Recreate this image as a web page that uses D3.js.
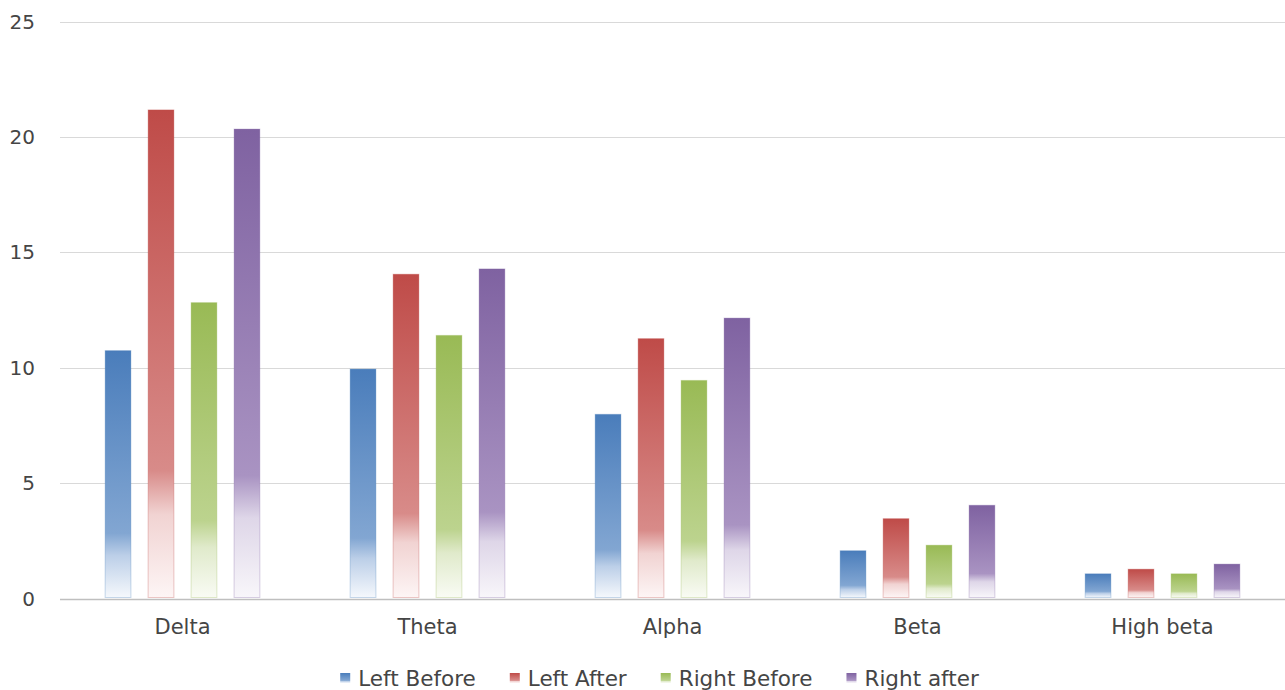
<!DOCTYPE html>
<html>
<head>
<meta charset="utf-8">
<script src="https://cdn.jsdelivr.net/npm/d3@7"></script>
<style>
  body { margin: 0; background: #fff; }
  svg { display: block; }
  text { font-family: "DejaVu Sans", sans-serif; fill: #454545; }
</style>
</head>
<body>
<div class="canva"></div>
<script>
// data
const categories = ["Delta", "Theta", "Alpha", "Beta", "High beta"];
const series = ["Left Before", "Left After", "Right Before", "Right after"];
const leftBefore  = [10.74, 9.94, 7.98, 2.07, 1.07];
const leftAfter   = [21.17, 14.05, 11.26, 3.46, 1.27];
const rightBefore = [12.82, 11.40, 9.45, 2.31, 1.07];
const rightAfter  = [20.34, 14.28, 12.15, 4.04, 1.49];
const yTicks = [0, 5, 10, 15, 20, 25];

const values = [leftBefore, leftAfter, rightBefore, rightAfter];

// gradient stops per series: top, mid, faded, bottom
const shades = [
  ["#4a7dbb", "#82a6d2", "#bccfe8", "#f5f8fc"],
  ["#bf4b48", "#d88b89", "#f1d3d2", "#fdf5f5"],
  ["#99ba55", "#bcd38e", "#e0eacb", "#f9fbf4"],
  ["#7f62a1", "#a993c2", "#ded6e8", "#f8f6fa"]
];

const width = 1285, height = 690;
const svg = d3.select(".canva").append("svg")
  .attr("width", width)
  .attr("height", height);

const defs = svg.append("defs");
shades.forEach((s, i) => {
  const g = defs.append("linearGradient")
    .attr("id", "grad" + i)
    .attr("x1", 0).attr("y1", 0).attr("x2", 0).attr("y2", 1);
  g.append("stop").attr("offset", "0").attr("stop-color", s[0]);
  g.append("stop").attr("offset", "0.74").attr("stop-color", s[1]);
  g.append("stop").attr("offset", "0.83").attr("stop-color", s[2]);
  g.append("stop").attr("offset", "1").attr("stop-color", s[3]);
});

const x0 = d3.scaleBand().domain(categories).range([60, 1285]).padding(0);
const x1 = d3.scaleBand().domain(series).range([0, x0.bandwidth()])
  .paddingInner(0.4).paddingOuter(1.05);
const y = d3.scaleLinear().domain([0, 25]).range([598.5, 21.5]);

// gridlines
svg.append("g").selectAll("line")
  .data(yTicks)
  .join("line")
  .attr("x1", 60).attr("x2", 1285)
  .attr("y1", d => Math.round(y(d)) + 0.5)
  .attr("y2", d => Math.round(y(d)) + 0.5)
  .attr("stroke", d => d === 0 ? "#bfbfbf" : "#d9d9d9")
  .attr("stroke-width", d => d === 0 ? 1.5 : 1);

// y labels
svg.append("g").selectAll("text")
  .data(yTicks)
  .join("text")
  .attr("x", 35)
  .attr("y", d => y(d) + 7)
  .attr("text-anchor", "end")
  .style("font-size", "20px")
  .text(d => d);

// bars
const groups = svg.append("g").selectAll("g")
  .data(categories)
  .join("g")
  .attr("transform", d => `translate(${x0(d)},0)`);

groups.selectAll("rect")
  .data((c, ci) => series.map((s, si) => ({ s, si, v: values[si][ci] })))
  .join("rect")
  .attr("x", d => x1(d.s))
  .attr("width", x1.bandwidth())
  .attr("y", d => y(d.v))
  .attr("height", d => y(0) - y(d.v) - 1)
  .attr("fill", d => `url(#grad${d.si})`)
  .attr("stroke", d => shades[d.si][0])
  .attr("stroke-opacity", 0.3)
  .attr("stroke-width", 1);

// category labels
svg.append("g").selectAll("text")
  .data(categories)
  .join("text")
  .attr("x", d => x0(d) + x0.bandwidth() / 2)
  .attr("y", 634)
  .attr("text-anchor", "middle")
  .style("font-size", "21px")
  .text(d => d);

// legend
const legend = svg.append("g");
const items = legend.selectAll("g")
  .data(series)
  .join("g");
items.append("rect")
  .attr("width", 10).attr("height", 10)
  .attr("y", 673)
  .attr("fill", (d, i) => `url(#grad${i})`);
items.append("text")
  .attr("x", 18)
  .attr("y", 686)
  .style("font-size", "21.5px")
  .text(d => d);

let pos = 0;
const offsets = [];
items.each(function() {
  offsets.push(pos);
  const w = d3.select(this).select("text").node().getComputedTextLength();
  pos += 18 + w + 34;
});
const total = pos - 34;
const startX = 659.5 - total / 2;
items.attr("transform", (d, i) => `translate(${startX + offsets[i]},0)`);
</script>
</body>
</html>
